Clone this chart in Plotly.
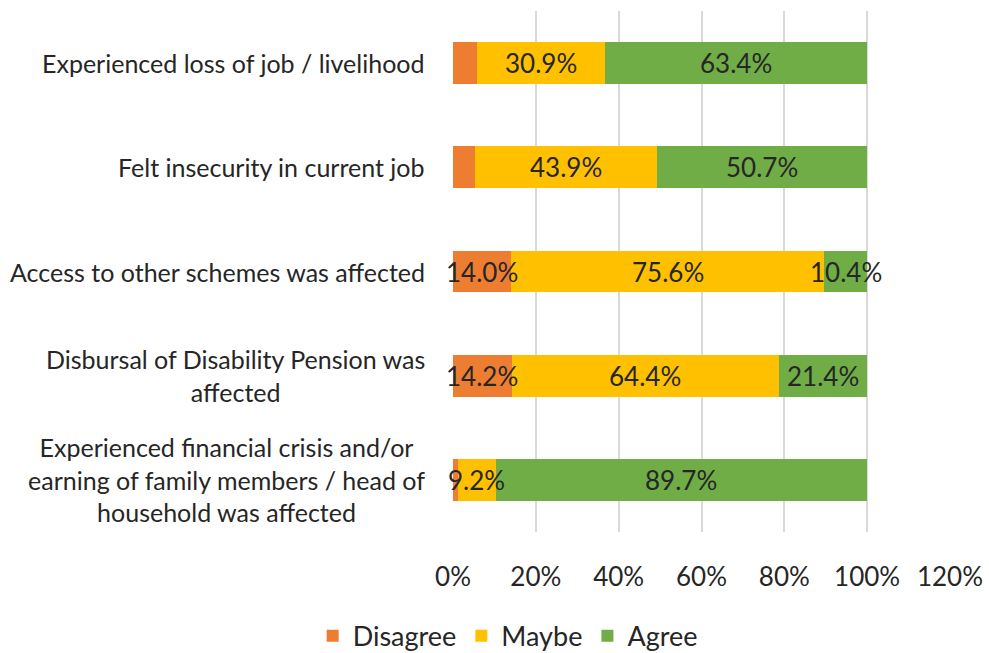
import plotly.graph_objects as go

categories = [
    "Experienced loss of job / livelihood",
    "Felt insecurity in current job",
    "Access to other schemes was affected",
    "Disbursal of Disability Pension was<br>affected",
    "Experienced financial crisis and/or<br>earning of family members / head of<br>household was affected",
]
disagree = [5.7, 5.4, 14.0, 14.2, 1.1]
maybe = [30.9, 43.9, 75.6, 64.4, 9.2]
agree = [63.4, 50.7, 10.4, 21.4, 89.7]
# segments too narrow to carry a visible label
show_disagree_label = [False, False, True, True, False]

x_ticks = [0, 20, 40, 60, 80, 100, 120]
x_tick_text = [f"{t}%" for t in x_ticks]

colors = {"Disagree": "#ED7D31", "Maybe": "#FFC000", "Agree": "#70AD47"}
FONT = "Lato, Open Sans, sans-serif"
TEXT = "#262626"

fig = go.Figure()
for name, vals in [("Disagree", disagree), ("Maybe", maybe), ("Agree", agree)]:
    fig.add_trace(go.Bar(
        y=categories, x=vals, name=name, orientation="h",
        marker=dict(color=colors[name], line=dict(width=0)),
        hoverinfo="x+name",
    ))

# data labels centred on each segment
annotations = []
for i, cat in enumerate(categories):
    left = 0.0
    for name, vals in [("Disagree", disagree), ("Maybe", maybe), ("Agree", agree)]:
        v = vals[i]
        show = show_disagree_label[i] if name == "Disagree" else True
        if show:
            annotations.append(dict(
                x=left + v / 2, y=cat, xref="x", yref="y",
                text=f"{v:.1f}%", showarrow=False,
                font=dict(family=FONT, size=26, color=TEXT),
            ))
        left += v

# category labels, centred line by line
for cat in categories:
    annotations.append(dict(
        x=0, y=cat, xref="paper", yref="y", xanchor="right", yanchor="middle",
        xshift=-26, text=cat, showarrow=False, align="center",
        font=dict(family=FONT, size=25, color=TEXT),
    ))

fig.update_layout(
    barmode="stack",
    bargap=0.6,
    width=989, height=653,
    margin=dict(l=453, r=39, t=11, b=121, autoexpand=False),
    paper_bgcolor="white", plot_bgcolor="white",
    font=dict(family=FONT, size=26, color=TEXT),
    xaxis=dict(
        range=[0, 120], tickvals=x_ticks, ticktext=x_tick_text,
        showgrid=True, gridcolor="#D9D9D9", gridwidth=2,
        zeroline=False, showline=False, ticks="",
        ticklabelstandoff=27, automargin=False,
        tickfont=dict(family=FONT, size=26, color=TEXT),
        fixedrange=True,
    ),
    yaxis=dict(
        categoryorder="array", categoryarray=categories[::-1],
        showticklabels=False, showgrid=False, zeroline=False,
        showline=False, ticks="", fixedrange=True, automargin=False,
    ),
    legend=dict(
        orientation="h", x=0.11, xanchor="center", y=-0.20, yanchor="middle",
        font=dict(family=FONT, size=27, color=TEXT),
        traceorder="normal", itemwidth=30,
    ),
    annotations=annotations,
    showlegend=True,
)

fig.write_html("out.html")
